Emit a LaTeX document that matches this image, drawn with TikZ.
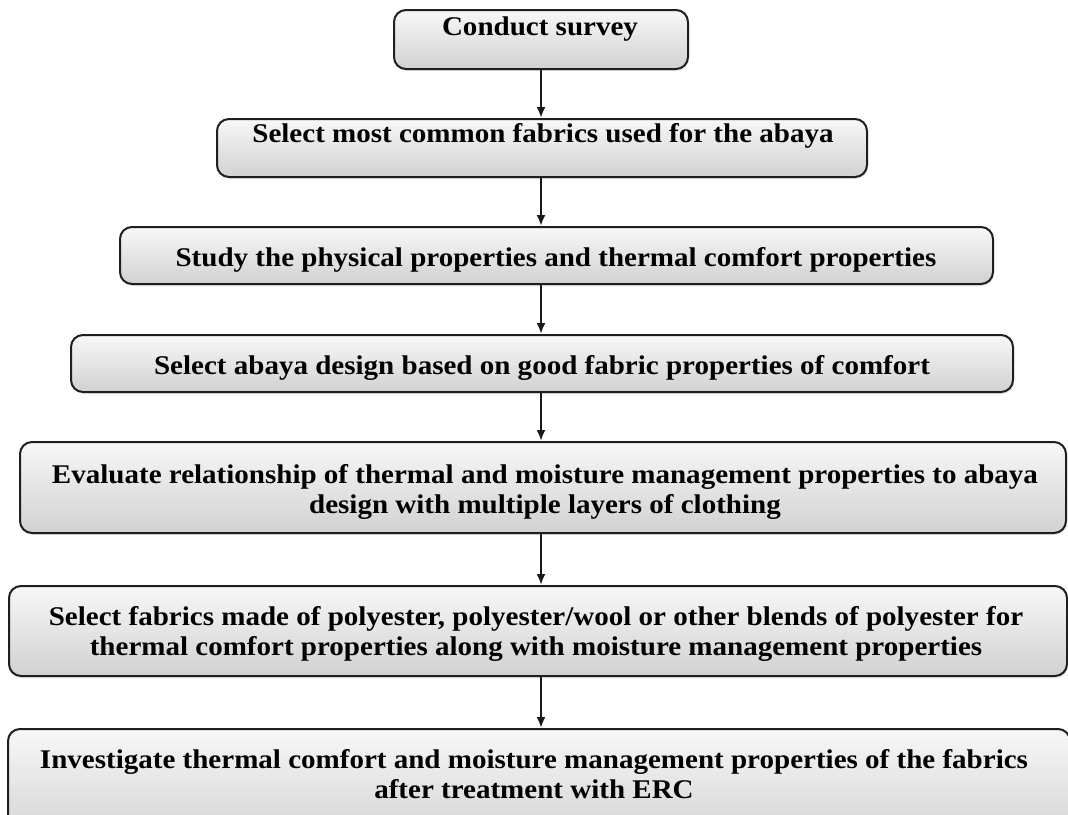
\documentclass[tikz,border=0pt]{standalone}
\usepackage{fontspec}
\setmainfont[FakeStretch=1.075]{Liberation Serif}
\usetikzlibrary{arrows.meta,shadows}
\begin{document}
\begin{tikzpicture}[x=1pt,y=-1pt,
  stepbox/.style={draw=black!88, line width=2pt, rounded corners=12pt,
    top color=black!3, bottom color=black!18, inner sep=0pt,
    drop shadow={opacity=0.18, shadow xshift=1pt, shadow yshift=-2pt}},
  steptext/.style={align=center, inner sep=0pt, font=\fontsize{27}{30}\selectfont\bfseries},
  arr/.style={line width=2.2pt, draw=black!90, -{Latex[length=11pt,width=9pt]}}]
\clip (0,0) rectangle (1068,814);
\useasboundingbox (0,0) rectangle (1068,814);
\fill[white] (0,0) rectangle (1068,814);
\node[stepbox, minimum width=294pt, minimum height=59pt] (b1) at (541,39.5) {};
\node[stepbox, minimum width=650pt, minimum height=58pt] (b2) at (542,148) {};
\node[stepbox, minimum width=873pt, minimum height=57pt] (b3) at (556.5,255.5) {};
\node[stepbox, minimum width=942pt, minimum height=57pt] (b4) at (542,363.5) {};
\node[stepbox, minimum width=1046pt, minimum height=91pt] (b5) at (543,487.5) {};
\node[stepbox, minimum width=1058pt, minimum height=90pt] (b6) at (538,631) {};
\node[stepbox, minimum width=1062pt, minimum height=116pt] (b7) at (539,787) {};
\node[steptext] (t1) at (540,29) {\strut Conduct survey};
\node[steptext] (t2) at (543,136) {\strut Select most common fabrics used for the abaya};
\node[steptext] (t3) at (556,260) {\strut Study the physical properties and thermal comfort properties};
\node[steptext] (t4) at (542,368) {\strut Select abaya design based on good fabric properties of comfort};
\node[steptext] (t5) at (545,492) {\strut Evaluate relationship of thermal and moisture management properties to abaya\\\strut design with multiple layers of clothing};
\node[steptext] (t6) at (536,634) {\strut Select fabrics made of polyester, polyester/wool or other blends of polyester for\\\strut thermal comfort properties along with moisture management properties};
\node[steptext] (t7) at (534,777.5) {\strut Investigate thermal comfort and moisture management properties of the fabrics\\\strut after treatment with ERC};
\coordinate (ax) at (541,0);
\draw[arr] (b1.south -| ax) -- (b2.north -| ax);
\draw[arr] (b2.south -| ax) -- (b3.north -| ax);
\draw[arr] (b3.south -| ax) -- (b4.north -| ax);
\draw[arr] (b4.south -| ax) -- (b5.north -| ax);
\draw[arr] (b5.south -| ax) -- (b6.north -| ax);
\draw[arr] (b6.south -| ax) -- (b7.north -| ax);
\end{tikzpicture}
\end{document}
